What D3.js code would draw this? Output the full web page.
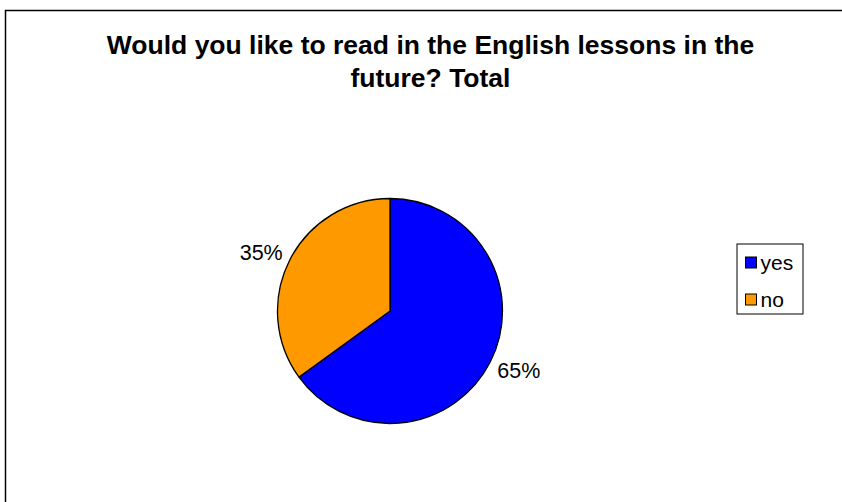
<!DOCTYPE html>
<html>
<head>
<meta charset="utf-8">
<script src="https://cdn.jsdelivr.net/npm/d3@7"></script>
<style>
  html, body { margin: 0; padding: 0; background: #fff; }
  svg { display: block; }
</style>
</head>
<body>
<svg id="chart" width="842" height="502"></svg>
<script>
// Survey answers
const categories = ["yes", "no"];
const values = [65, 35];
const colors = ["#0000FF", "#FF9900"];
const titleLines = ["Would you like to read in the English lessons in the", "future? Total"];

const svg = d3.select("#chart");
const font = "Arial, 'Liberation Sans', sans-serif";

// outer frame
svg.append("rect")
  .attr("x", 5.5).attr("y", 10.5)
  .attr("width", 900).attr("height", 600)
  .attr("fill", "#fff")
  .attr("stroke", "#000").attr("stroke-width", 1.5);

// title
svg.append("g").selectAll("text")
  .data(titleLines)
  .join("text")
  .attr("x", 430.5)
  .attr("y", (d, i) => 54 + i * 32.5)
  .attr("text-anchor", "middle")
  .attr("font-family", font)
  .attr("font-weight", "bold")
  .attr("font-size", 26.5)
  .text(d => d);

// pie
const cx = 390, cy = 311, r = 112.5;
const data = categories.map((c, i) => ({ category: c, value: values[i], color: colors[i] }));
const pie = d3.pie().sort(null).value(d => d.value);
const arcs = pie(data);
const arc = d3.arc().innerRadius(0).outerRadius(r);
const total = d3.sum(values);

const g = svg.append("g").attr("transform", `translate(${cx},${cy})`);
g.selectAll("path")
  .data(arcs)
  .join("path")
  .attr("d", arc)
  .attr("fill", d => d.data.color)
  .attr("stroke", "#000")
  .attr("stroke-width", 1.3)
  .attr("stroke-linejoin", "round");

// percentage labels sit just outside the slice, pushed sideways by half their width
const labelR = 130.5, labelShift = 12.5;
function labelPos(d) {
  const a = (d.startAngle + d.endAngle) / 2;
  const x = Math.sin(a) * labelR;
  const y = -Math.cos(a) * labelR;
  return [x + Math.sign(x) * labelShift, y];
}
g.selectAll("text")
  .data(arcs)
  .join("text")
  .attr("transform", d => `translate(${labelPos(d)})`)
  .attr("text-anchor", "middle")
  .attr("dy", "0.36em")
  .attr("font-family", font)
  .attr("font-size", 21.5)
  .text(d => Math.round(d.data.value / total * 100) + "%");

// legend
const legend = svg.append("g").attr("transform", "translate(737,244)");
legend.append("rect")
  .attr("x", 0).attr("y", 0)
  .attr("width", 66).attr("height", 70)
  .attr("fill", "#fff")
  .attr("stroke", "#000").attr("stroke-width", 1);
const items = legend.selectAll("g.item")
  .data(data)
  .join("g")
  .attr("class", "item")
  .attr("transform", (d, i) => `translate(0,${18.5 + i * 37})`);
items.append("rect")
  .attr("x", 8.5).attr("y", -5.5)
  .attr("width", 11).attr("height", 11)
  .attr("fill", d => d.color)
  .attr("stroke", "#000").attr("stroke-width", 1);
items.append("text")
  .attr("x", 23.5).attr("y", 0)
  .attr("dy", "0.36em")
  .attr("font-family", font)
  .attr("font-size", 21)
  .text(d => d.category);
</script>
</body>
</html>
